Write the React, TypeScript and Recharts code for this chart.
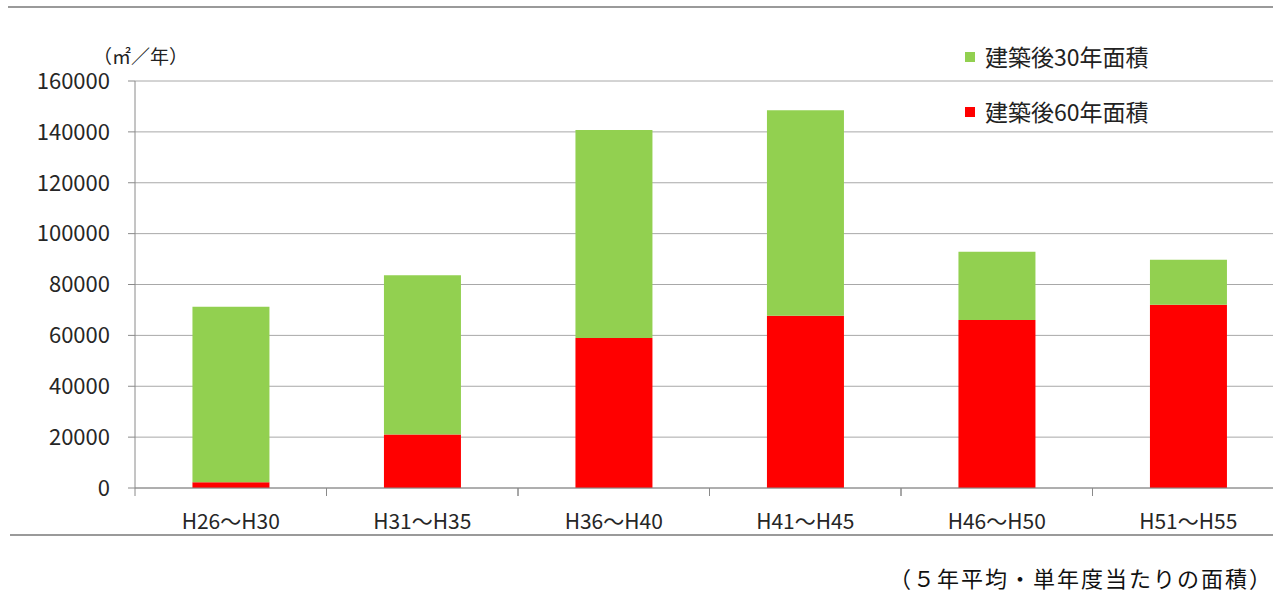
import React from "react";
import { BarChart, Bar, XAxis, YAxis, CartesianGrid, Legend } from "recharts";

// 期間区分
const periods = ["H26～H30", "H31～H35", "H36～H40", "H41～H45", "H46～H50", "H51～H55"];
// 建築後60年を迎える面積（㎡／年）
const area60 = [2300, 21000, 59000, 67700, 66000, 72000];
// 建築後30年を迎える面積（㎡／年）
const area30 = [69000, 62600, 81700, 80800, 26900, 17700];
// 縦軸目盛
const yTicks = [0, 20000, 40000, 60000, 80000, 100000, 120000, 140000, 160000];
// 凡例の並び順
const legendOrder = ["建築後30年面積", "建築後60年面積"];

const rows = periods.map((p, i) => ({ period: p, a60: area60[i], a30: area30[i] }));

const FONT = '"Noto Sans CJK JP", "Noto Sans", sans-serif';
const AXIS = "#8a8a8a";
const GRID = "#a8a8a8";
const TEXT = "#262626";
const GREEN = "#92d050";
const RED = "#ff0000";

const CategoryTick = (props: any) => {
  const { x, y, payload } = props;
  const half = payload.offset || 0;
  return (
    <g>
      <line x1={x - half} x2={x - half} y1={y - 8} y2={y} stroke={AXIS} strokeWidth={1} />
      <line x1={x + half} x2={x + half} y1={y - 8} y2={y} stroke={AXIS} strokeWidth={1} />
      <text
        x={x}
        y={y + 24}
        textAnchor="middle"
        dominantBaseline="central"
        fontSize={21}
        fontFamily={FONT}
        fill={TEXT}
      >
        {payload.value}
      </text>
    </g>
  );
};

const LegendBox = (props: any) => {
  const items = [...(props.payload || [])].sort(
    (a: any, b: any) => legendOrder.indexOf(a.value) - legendOrder.indexOf(b.value)
  );
  return (
    <div style={{ fontFamily: FONT }}>
      {items.map((it: any) => (
        <div
          key={it.value}
          style={{ height: 55, display: "flex", alignItems: "center" }}
        >
          <span
            style={{ width: 10, height: 10, background: it.color, display: "inline-block", marginRight: 10 }}
          />
          <span style={{ fontSize: 23, color: "#222", lineHeight: 1 }}>{it.value}</span>
        </div>
      ))}
    </div>
  );
};

export default function App() {
  return (
    <div
      style={{
        position: "absolute",
        left: 0,
        top: 0,
        width: 1273,
        height: 592,
        overflow: "hidden",
        background: "#fff",
      }}
    >
      <BarChart
        width={1300}
        height={592}
        data={rows}
        margin={{ top: 81, right: 16, bottom: 44, left: 0 }}
        barCategoryGap="30%"
      >
        <CartesianGrid horizontal vertical={false} stroke={GRID} strokeWidth={1} />
        <XAxis
          dataKey="period"
          height={60}
          interval={0}
          tickLine={false}
          tickSize={8}
          tickMargin={0}
          axisLine={{ stroke: AXIS, strokeWidth: 1 }}
          tick={<CategoryTick />}
        />
        <YAxis
          width={135}
          domain={[0, 160000]}
          ticks={yTicks}
          interval={0}
          tickSize={7}
          tickMargin={18}
          axisLine={{ stroke: AXIS, strokeWidth: 1 }}
          tickLine={{ stroke: AXIS, strokeWidth: 1 }}
          tick={{ fontSize: 22, fontFamily: FONT, fill: TEXT }}
        />
        <Legend
          layout="vertical"
          verticalAlign="middle"
          align="center"
          content={<LegendBox />}
          wrapperStyle={{ position: "absolute", left: 965, top: 29, width: 260 }}
        />
        <Bar dataKey="a60" name="建築後60年面積" stackId="s" fill={RED} isAnimationActive={false} />
        <Bar dataKey="a30" name="建築後30年面積" stackId="s" fill={GREEN} isAnimationActive={false} />
      </BarChart>
      <svg
        width={1273}
        height={592}
        style={{ position: "absolute", left: 0, top: 0, pointerEvents: "none" }}
      >
        <line x1={8} x2={1273} y1={7} y2={7} stroke="#9a9a9a" strokeWidth={2} />
        <line x1={10} x2={1273} y1={535} y2={535} stroke="#9a9a9a" strokeWidth={2} />
        <text x={93} y={55} dominantBaseline="central" fontSize={19} fontFamily={FONT} fill="#222">
          （㎡／年）
        </text>
        <text
          x={889}
          y={577}
          dominantBaseline="central"
          fontSize={22}
          letterSpacing={2}
          fontFamily={FONT}
          fill="#111"
        >
          （５年平均・単年度当たりの面積）
        </text>
      </svg>
    </div>
  );
}
